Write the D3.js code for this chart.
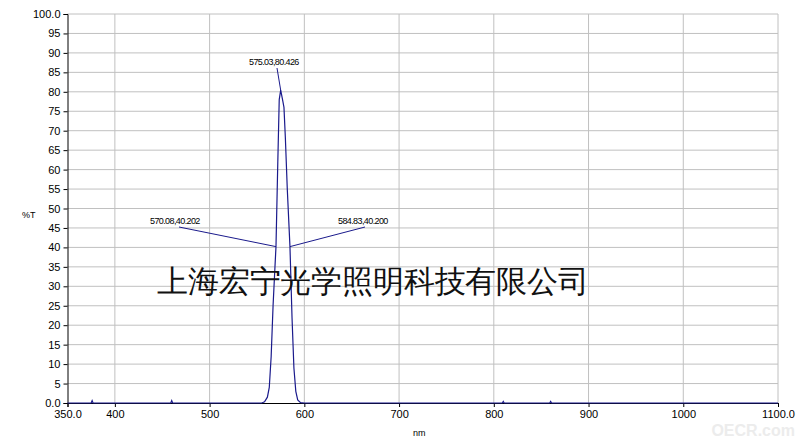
<!DOCTYPE html><html><head><meta charset="utf-8"><script src="https://cdn.jsdelivr.net/npm/d3@7"></script>
<style>body{margin:0;background:#fff}text{font-family:Arial,"Liberation Sans",sans-serif}</style></head><body><svg id="c" width="805" height="443"></svg><script>
const wavelengths=[350,375,376,377,459,460,461,540,555,558,561,563,565,567,569,570.08,572,573.5,575.03,577,578.5,580,582,584.83,587,589,591,593,596,600,700,809,810,811,859,860,861,1100];
const transmission=[0,0,0.6,0,0,0.6,0,0,0,0.3,1.5,4,12,25,35,40.202,62,78,80.426,78,76,68,55,40.2,22,9,3,0.8,0.1,0,0,0,0.4,0,0,0.4,0,0];
const xTicks=[400,500,600,700,800,900,1000];
const yTicks=[5,10,15,20,25,30,35,40,45,50,55,60,65,70,75,80,85,90,95];
const peaks=[{x:575.03,y:80.426,lx:249,ly:65,ax:277,ay:68},{x:570.08,y:40.202,lx:150,ly:224,ax:179,ay:227},{x:584.83,y:40.2,lx:338,ly:224,ax:365,ay:227}];
const svg=d3.select("#c");
const x=d3.scaleLinear().domain([350,1100]).range([67.5,778]);
const y=d3.scaleLinear().domain([0,100]).range([403,14]);
svg.append("g").selectAll("line.v").data(xTicks.concat([1100])).join("line").attr("x1",d=>x(d)).attr("x2",d=>x(d)).attr("y1",y(100)).attr("y2",y(0)).attr("stroke","#c0c0c0");
svg.append("g").selectAll("line.h").data(yTicks.concat([100])).join("line").attr("x1",x(350)).attr("x2",x(1100)).attr("y1",d=>y(d)).attr("y2",d=>y(d)).attr("stroke","#c0c0c0");
const ya=svg.append("g").attr("transform",`translate(${x(350)},0)`).call(d3.axisLeft(y).tickValues([0].concat(yTicks,[100])).tickSize(4).tickFormat(d=>d===0||d===100?d.toFixed(1):d));
const xa=svg.append("g").attr("transform",`translate(0,${y(0)})`).call(d3.axisBottom(x).tickValues([350].concat(xTicks,[1100])).tickSize(4).tickFormat(d=>d===350||d===1100?d.toFixed(1):d));
[ya,xa].forEach(a=>{a.select(".domain").attr("stroke","#000");a.selectAll("text").attr("font-size",11).attr("fill","#000");});
svg.append("path").datum(wavelengths.map((w,i)=>[w,transmission[i]])).attr("d",d3.line().x(d=>x(d[0])).y(d=>y(d[1]))).attr("fill","none").attr("stroke","#1a1a8c").attr("stroke-width",1.2);
peaks.forEach(p=>{svg.append("line").attr("x1",p.ax).attr("y1",p.ay).attr("x2",x(p.x)).attr("y2",y(p.y)).attr("stroke","#1a1a8c");
svg.append("text").attr("x",p.lx).attr("y",p.ly).attr("font-size",9).attr("letter-spacing",-0.6).text(p.x.toFixed(2)+","+(p.y===40.2?"40.200":p.y.toFixed(3)));});
svg.append("text").attr("x",22).attr("y",218).attr("font-size",9).text("%T");
svg.append("text").attr("x",413).attr("y",436).attr("font-size",9).text("nm");
svg.append("text").attr("x",157).attr("y",292).attr("font-family","Noto Serif CJK SC,Noto Sans CJK SC,serif").attr("font-size",31).attr("font-weight",300).attr("fill","#111").attr("textLength",432).text("上海宏宁光学照明科技有限公司");
svg.append("text").attr("x",795).attr("y",436).attr("text-anchor","end").attr("font-size",16).attr("font-weight","bold").attr("fill","#ececec").text("OECR.com");
</script></body></html>
